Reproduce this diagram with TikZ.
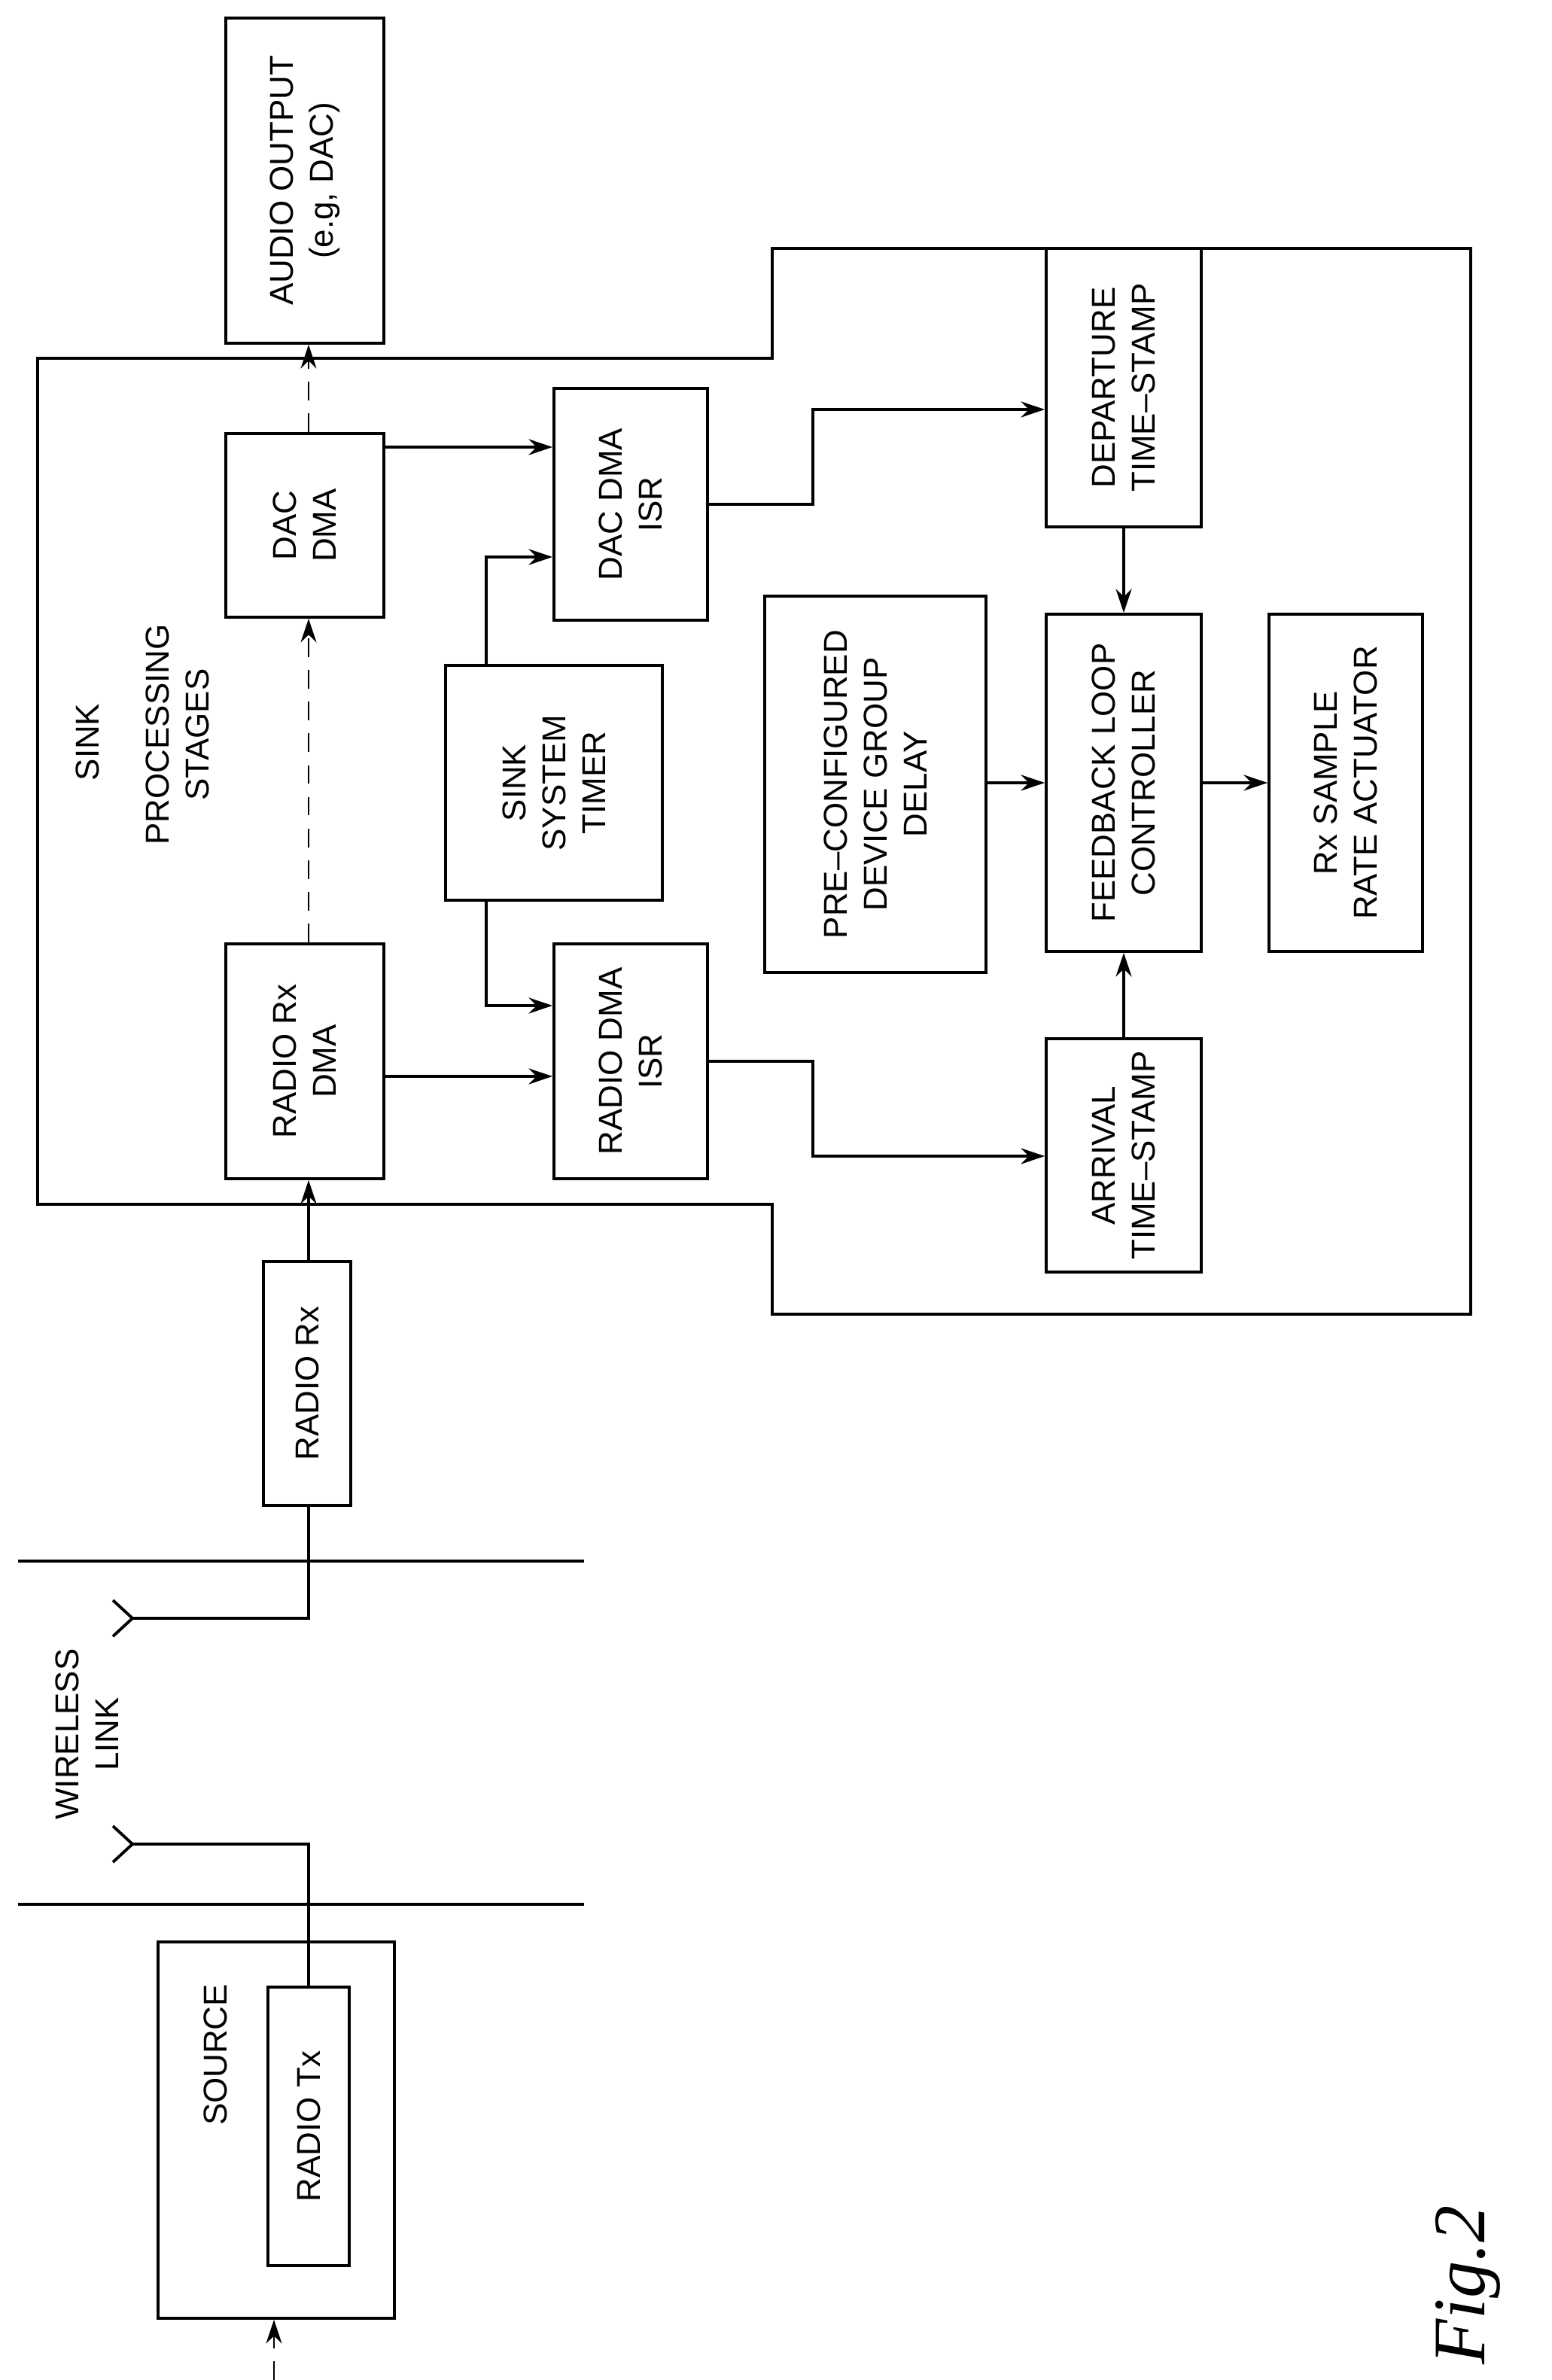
\documentclass[tikz,border=0pt]{standalone}
\usepackage{fontspec}
\setmainfont{Liberation Sans}
\newfontfamily\figfont{Liberation Serif}
\usetikzlibrary{fit,arrows.meta}
\begin{document}
\begin{tikzpicture}[x=0.02cm,y=-0.02cm,line width=1.1pt,
  box/.style={draw,inner sep=0pt},
  txt/.style={rotate=90,align=center,font=\fontsize{12.5}{15}\selectfont,inner sep=0pt},
  arr/.style={-{Stealth[length=9pt,width=6pt]}},
  dsh/.style={arr,dash pattern=on 7pt off 5pt,line width=0.7pt}]
\useasboundingbox (0,0) rectangle (1030.5,1581);
\newcommand\bx[6]{\node[box,fit={(#2,#3)(#4,#5)}] (#1) {};\node[txt] at (#1) {#6};}
% sink outline
\draw (25,238) -- (513,238) -- (513,165) -- (977,165) -- (977,873) -- (513,873) -- (513,800) -- (25,800) -- cycle;
\bx{audio}{150}{12}{255}{228}{AUDIO OUTPUT\\(e.g, DAC)}
\bx{dacdma}{150}{288}{255}{410}{DAC\\DMA}
\bx{dacisr}{368}{258}{470}{412}{DAC DMA\\ISR}
\bx{dep}{695}{165}{798}{350}{DEPARTURE\\TIME--STAMP}
\bx{timer}{296}{442}{440}{598}{SINK\\SYSTEM\\TIMER}
\bx{pre}{508}{396}{655}{646}{PRE--CONFIGURED\\DEVICE GROUP\\DELAY}
\bx{flc}{695}{408}{798}{632}{FEEDBACK LOOP\\CONTROLLER}
\bx{act}{843}{408}{945}{632}{Rx SAMPLE\\RATE ACTUATOR}
\bx{rxdma}{150}{627}{255}{783}{RADIO Rx\\DMA}
\bx{rdisr}{368}{627}{470}{783}{RADIO DMA\\ISR}
\bx{arr}{695}{690}{798}{845}{ARRIVAL\\TIME--STAMP}
\bx{radiorx}{175}{838}{233}{1000}{RADIO Rx}
\node[box,fit={(105,1290)(262,1540)}] (source) {};
\node[box,fit={(178,1320)(232,1505)}] (tx) {};
\node[txt] at (143,1365) {SOURCE};
\node[txt] at (tx) {RADIO Tx};
\node[txt] at (58,493) {SINK};
\node[txt] at (118,488) {PROCESSING\\STAGES};
\node[txt] (wl) at (58,1152) {WIRELESS\\LINK};
\node[rotate=90,font=\fontsize{28}{30}\selectfont\figfont\itshape] (fig) at (975,1518) {Fig.2};
% wireless link lines
\draw (12,1037) -- (388,1037);
\draw (12,1265) -- (388,1265);
% antennas
\coordinate (a1) at (88,1075);
\coordinate (a2) at (88,1225);
\draw (75,1063) -- (a1) -- (75,1087);
\draw (75,1213) -- (a2) -- (75,1237);
\draw (a1) -- (205,1075) -- (radiorx.south -| 205,0);
\draw (a2) -- (205,1225) -- (tx.north -| 205,0);
% input
\coordinate (in) at (182,1581);
\draw[dsh] (in) -- (source.south -| 182,0);
% flow
\draw[arr] (radiorx.north -| 205,0) -- (rxdma.south -| 205,0);
\draw[dsh] (rxdma.north -| 205,0) -- (dacdma.south -| 205,0);
\draw[dsh] (dacdma.north -| 205,0) -- (audio.south -| 205,0);
\draw[arr] (rxdma.east |- 0,715) -- (rdisr.west |- 0,715);
\draw[arr] (dacdma.east |- 0,297) -- (dacisr.west |- 0,297);
\draw[arr] (timer.north -| 323,0) -- (323,370) -- (dacisr.west |- 0,370);
\draw[arr] (timer.south -| 323,0) -- (323,668) -- (rdisr.west |- 0,668);
\draw[arr] (rdisr.east |- 0,705) -- (540,705) -- (540,768) -- (arr.west |- 0,768);
\draw[arr] (dacisr.east |- 0,335) -- (540,335) -- (540,272) -- (dep.west |- 0,272);
\draw[arr] (dep.south) -- (flc.north);
\draw[arr] (arr.north) -- (flc.south);
\draw[arr] (pre.east |- 0,520) -- (flc.west |- 0,520);
\draw[arr] (flc.east |- 0,520) -- (act.west |- 0,520);
\end{tikzpicture}
\end{document}
